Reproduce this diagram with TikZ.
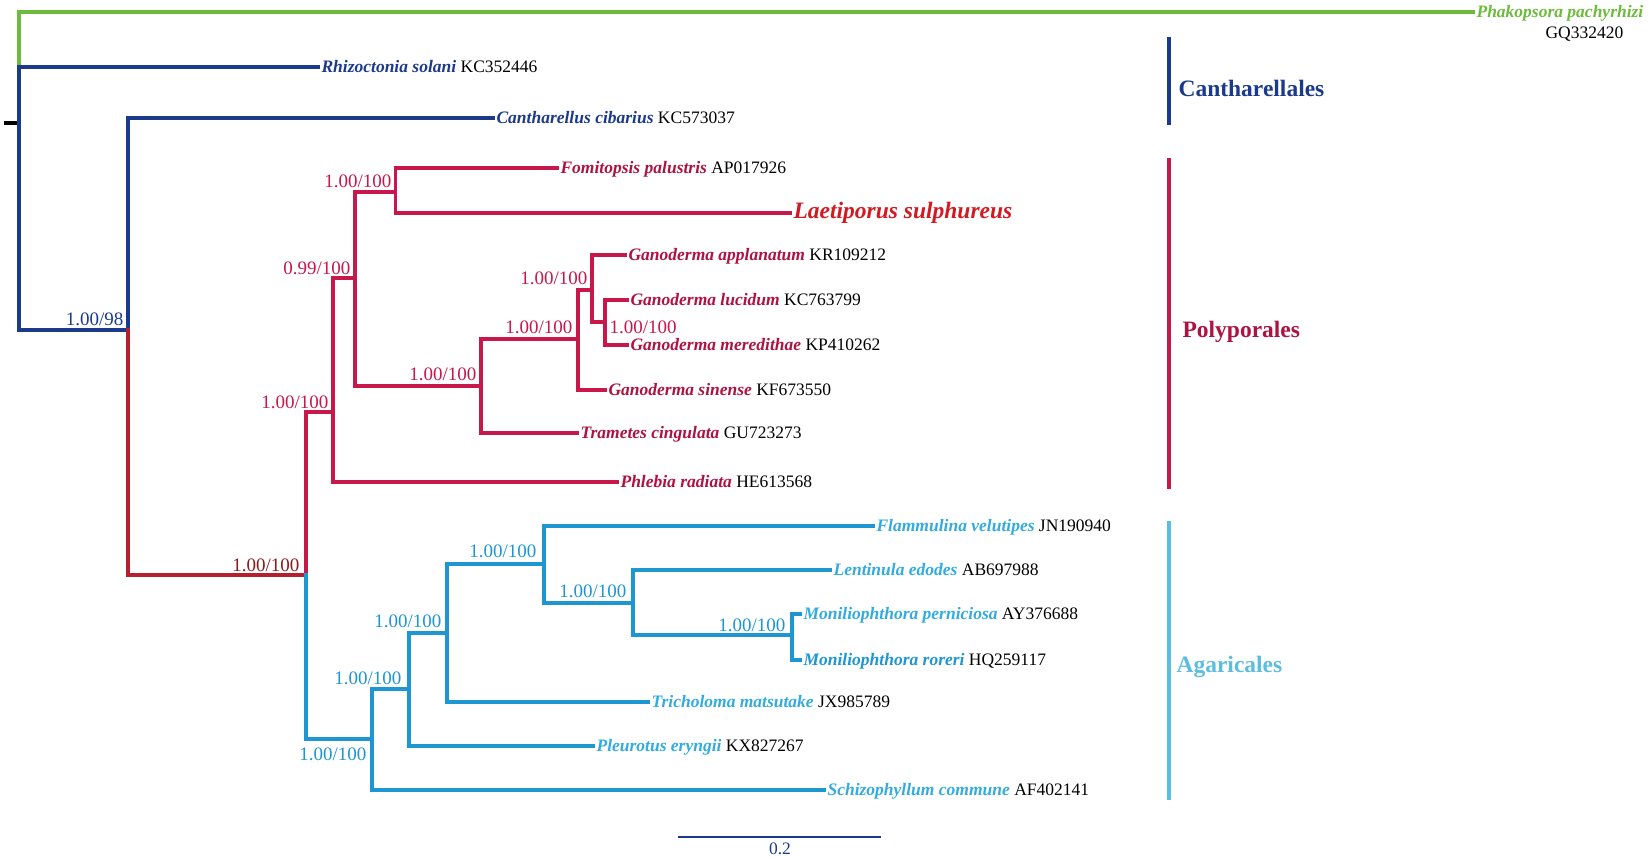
\documentclass[tikz,border=0pt]{standalone}
\usepackage{fontspec}
\setmainfont{Liberation Serif}
\definecolor{cgreen}{HTML}{6CBB3C}
\definecolor{cnavy}{HTML}{1B3A8C}
\definecolor{ccrim}{HTML}{C8174B}
\definecolor{ccrimtxt}{HTML}{AE1240}
\definecolor{cdred}{HTML}{B51F2E}
\definecolor{cbrown}{HTML}{8B1A1A}
\definecolor{clred}{HTML}{D21A22}
\definecolor{cblue}{HTML}{1E96D2}
\definecolor{cbluetxt}{HTML}{32ABDF}
\definecolor{cagar}{HTML}{5BBDE0}
\newcommand\spname[3]{\textcolor{#1}{\bfseries\itshape #2}\ #3}
\begin{document}
\begin{tikzpicture}[x=1bp,y=-1bp,line width=3.1bp,line cap=rect,
  leaf/.style={anchor=base west,yshift=-5bp,xshift=2bp,inner sep=0pt,font=\fontsize{17.5bp}{20bp}\selectfont},
  supl/.style={anchor=base east,inner sep=0pt,font=\fontsize{19bp}{22bp}\selectfont},
  supr/.style={anchor=base west,inner sep=0pt,font=\fontsize{19bp}{22bp}\selectfont},
  grp/.style={anchor=west,inner sep=0pt,font=\fontsize{23.5bp}{26bp}\selectfont\bfseries}]
\useasboundingbox (0,0) rectangle (1650,857);
% ---------- internal nodes ----------
\coordinate (root) at (19,67);
\coordinate (n128) at (128,330);
\coordinate (n306) at (306,575);
\coordinate (n333) at (333,412);
\coordinate (n355) at (355,278);
\coordinate (n395) at (395.5,192);
\coordinate (n481) at (481,386);
\coordinate (n578) at (578,339);
\coordinate (n592) at (592,290);
\coordinate (n605) at (605,322);
\coordinate (n372) at (372,739);
\coordinate (n409) at (409,689);
\coordinate (n447) at (447,633);
\coordinate (n544) at (544,564);
\coordinate (n633) at (633,603);
\coordinate (n792) at (792,635);
% ---------- leaf tips ----------
\coordinate (tphak) at (1473,12);
\coordinate (trhiz) at (318,67);
\coordinate (tcant) at (493,118);
\coordinate (tfom) at (557,168);
\coordinate (tlae) at (790,213);
\coordinate (tgap) at (625,255);
\coordinate (tgluc) at (627,300);
\coordinate (tgmer) at (627,345);
\coordinate (tgsin) at (605,390);
\coordinate (ttra) at (577,433);
\coordinate (tphl) at (617,482);
\coordinate (tfla) at (873,526);
\coordinate (tlen) at (830,570);
\coordinate (tmpe) at (800,614);
\coordinate (tmro) at (800,660);
\coordinate (ttri) at (648,702);
\coordinate (tple) at (593,746);
\coordinate (tsch) at (824,790);
% ---------- branches ----------
\draw[black,line cap=butt] (4,123) -- (19,123);
\draw[cgreen] (root) |- (tphak);
\draw[cnavy] (root) -- (trhiz);
\draw[cnavy] (root) |- (n128);
\draw[cnavy] (n128) |- (tcant);
\draw[cdred] (n128) |- (n306);
\draw[ccrim] (n306) |- (n333);
\draw[cblue] (n306) |- (n372);
\draw[ccrim] (n333) |- (n355);
\draw[ccrim] (n333) |- (tphl);
\draw[ccrim] (n355) |- (n395);
\draw[ccrim] (n355) |- (n481);
\draw[ccrim] (n395) |- (tfom);
\draw[ccrim] (n395) |- (tlae);
\draw[ccrim] (n481) |- (n578);
\draw[ccrim] (n481) |- (ttra);
\draw[ccrim] (n578) |- (n592);
\draw[ccrim] (n578) |- (tgsin);
\draw[ccrim] (n592) |- (tgap);
\draw[ccrim] (n592) |- (n605);
\draw[ccrim] (n605) |- (tgluc);
\draw[ccrim] (n605) |- (tgmer);
\draw[cblue] (n372) |- (n409);
\draw[cblue] (n372) |- (tsch);
\draw[cblue] (n409) |- (n447);
\draw[cblue] (n409) |- (tple);
\draw[cblue] (n447) |- (n544);
\draw[cblue] (n447) |- (ttri);
\draw[cblue] (n544) |- (tfla);
\draw[cblue] (n544) |- (n633);
\draw[cblue] (n633) |- (tlen);
\draw[cblue] (n633) |- (n792);
\draw[cblue] (n792) |- (tmpe);
\draw[cblue] (n792) |- (tmro);
% ---------- leaf labels ----------
\node[leaf] (lphak) at (tphak) {\textcolor{cgreen}{\bfseries\itshape Phakopsora pachyrhizi}};
\node[leaf,anchor=base west,xshift=0pt,yshift=0pt] (lgq) at (1542,33) {GQ332420};
\node[leaf] (lrhiz) at (trhiz) {\spname{cnavy}{Rhizoctonia solani}{KC352446}};
\node[leaf] (lcant) at (tcant) {\spname{cnavy}{Cantharellus cibarius}{KC573037}};
\node[leaf] (lfom) at (tfom) {\spname{ccrimtxt}{Fomitopsis palustris}{AP017926}};
\node[leaf,font=\fontsize{23.5bp}{26bp}\selectfont] (llae) at (tlae) {\textcolor{clred}{\bfseries\itshape Laetiporus sulphureus}};
\node[leaf] (lgap) at (tgap) {\spname{ccrimtxt}{Ganoderma applanatum}{KR109212}};
\node[leaf] (lgluc) at (tgluc) {\spname{ccrimtxt}{Ganoderma lucidum}{KC763799}};
\node[leaf] (lgmer) at (tgmer) {\spname{ccrimtxt}{Ganoderma meredithae}{KP410262}};
\node[leaf] (lgsin) at (tgsin) {\spname{ccrimtxt}{Ganoderma sinense}{KF673550}};
\node[leaf] (ltra) at (ttra) {\spname{ccrimtxt}{Trametes cingulata}{GU723273}};
\node[leaf] (lphl) at (tphl) {\spname{ccrimtxt}{Phlebia radiata}{HE613568}};
\node[leaf] (lfla) at (tfla) {\spname{cbluetxt}{Flammulina velutipes}{JN190940}};
\node[leaf] (llen) at (tlen) {\spname{cbluetxt}{Lentinula edodes}{AB697988}};
\node[leaf] (lmpe) at (tmpe) {\spname{cbluetxt}{Moniliophthora perniciosa}{AY376688}};
\node[leaf] (lmro) at (tmro) {\spname{cblue}{Moniliophthora roreri}{HQ259117}};
\node[leaf] (ltri) at (ttri) {\spname{cbluetxt}{Tricholoma matsutake}{JX985789}};
\node[leaf] (lple) at (tple) {\spname{cbluetxt}{Pleurotus eryngii}{KX827267}};
\node[leaf] (lsch) at (tsch) {\spname{cbluetxt}{Schizophyllum commune}{AF402141}};
% ---------- support values ----------
\node[supl,text=cnavy] (s128) at (125,325) {1.00/98};
\node[supl,text=cbrown] (s306) at (301,571) {1.00/100};
\node[supl,text=ccrim] (s333) at (330,408) {1.00/100};
\node[supl,text=ccrim] (s355) at (352,274) {0.99/100};
\node[supl,text=ccrim] (s395) at (393,187) {1.00/100};
\node[supl,text=ccrim] (s481) at (478,380) {1.00/100};
\node[supl,text=ccrim] (s578) at (574,333) {1.00/100};
\node[supl,text=ccrim] (s592) at (589,284) {1.00/100};
\node[supr,text=ccrim] (s605) at (608,333) {1.00/100};
\node[supl,text=cblue] (s372) at (368,760) {1.00/100};
\node[supl,text=cblue] (s409) at (403,684) {1.00/100};
\node[supl,text=cblue] (s447) at (443,627) {1.00/100};
\node[supl,text=cblue] (s544) at (538,557) {1.00/100};
\node[supl,text=cblue] (s633) at (628,597) {1.00/100};
\node[supl,text=cblue] (s792) at (787,631) {1.00/100};
% ---------- group bars ----------
\coordinate (gc1) at (1169,37); \coordinate (gc2) at (1169,125);
\coordinate (gp1) at (1169,158); \coordinate (gp2) at (1169,489);
\coordinate (ga1) at (1169,521); \coordinate (ga2) at (1169,800);
\draw[cnavy,line cap=butt] (gc1) -- (gc2);
\draw[ccrim,line cap=butt] (gp1) -- (gp2);
\draw[cagar,line cap=butt] (ga1) -- (ga2);
\node[grp,text=cnavy] (gcant) at (1177,88) {Cantharellales};
\node[grp,text=ccrimtxt] (gpoly) at (1181,332) {Polyporales};
\node[grp,text=cagar] (gagar) at (1175,667) {Agaricales};
% ---------- scale bar ----------
\coordinate (sb1) at (678,837); \coordinate (sb2) at (881,837);
\draw[cnavy,line width=2.2bp,line cap=butt] (sb1) -- (sb2);
\node[anchor=base,inner sep=0pt,text=cnavy,font=\fontsize{17.5bp}{20bp}\selectfont] (sbl) at (780,854) {0.2};
\end{tikzpicture}
\end{document}
